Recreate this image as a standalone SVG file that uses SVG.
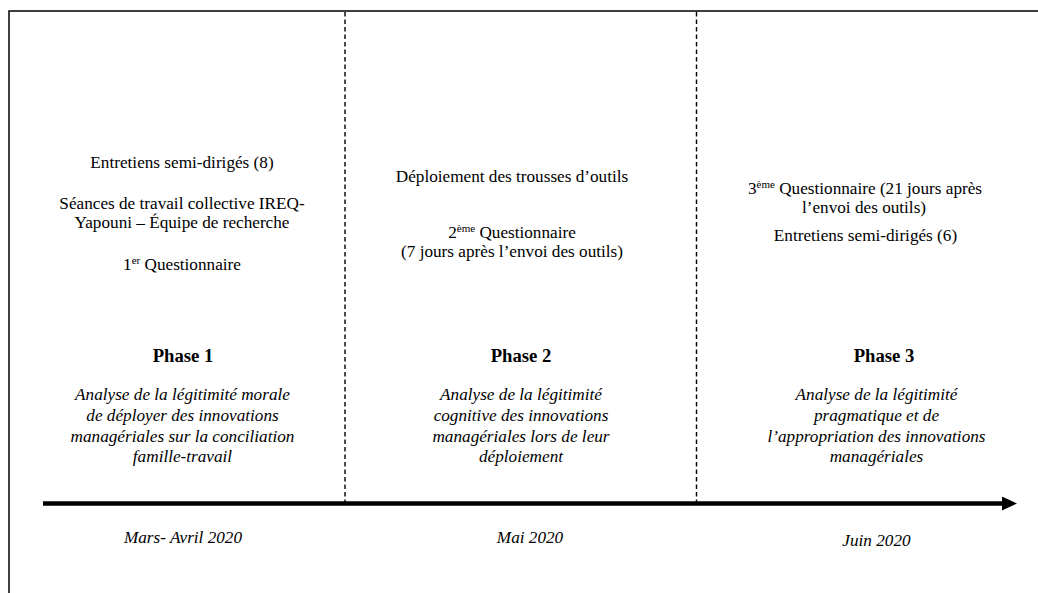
<svg xmlns="http://www.w3.org/2000/svg" width="1038" height="593" viewBox="0 0 1038 593">
<style>
text{font-family:"Liberation Serif","Times New Roman",serif;fill:#000;text-anchor:middle}
.r{font-size:17.2px}
.i{font-size:17.2px;font-style:italic}
.b{font-size:18.7px;font-weight:bold}
.sup{font-size:11px}
.dash{stroke:#000;stroke-width:1.4;stroke-dasharray:4.5 3;fill:none}
.frame{stroke:#000;stroke-width:1.5;fill:none}
</style>
<defs>
<marker id="ah" markerUnits="userSpaceOnUse" markerWidth="16" markerHeight="16" refX="0" refY="7" orient="auto">
<polygon points="0,0 15,7 0,14" fill="#000"/>
</marker>
</defs>
<rect width="1038" height="593" fill="#fff"/>
<path class="frame" d="M9,600 V11 H1045"/>
<line class="dash" x1="345" y1="12" x2="345" y2="502"/>
<line class="dash" x1="696.5" y1="12" x2="696.5" y2="502"/>
<g id="connectors">
<line x1="43" y1="503.5" x2="1002" y2="503.5" stroke="#000" stroke-width="4.6" marker-end="url(#ah)"/>
</g>
<g id="phase1">
<text class="r" x="182" y="168">Entretiens semi-dirigés (8)</text>
<text class="r" x="182" y="208.5">Séances de travail collective IREQ-</text>
<text class="r" x="182" y="227.5">Yapouni – Équipe de recherche</text>
<text class="r" x="182" y="270">1<tspan class="sup" dy="-6">er</tspan><tspan dy="6"> Questionnaire</tspan></text>
<text class="b" x="183" y="361.5">Phase 1</text>
<text class="i" x="182.5" y="400">Analyse de la légitimité morale</text>
<text class="i" x="182.5" y="421">de déployer des innovations</text>
<text class="i" x="182.5" y="441.5">managériales sur la conciliation</text>
<text class="i" x="182.5" y="462">famille-travail</text>
<text class="i" x="183" y="542.5">Mars- Avril 2020</text>
</g>
<g id="phase2">
<text class="r" x="512" y="182">Déploiement des trousses d’outils</text>
<text class="r" x="512" y="237.5">2<tspan class="sup" dy="-6">ème</tspan><tspan dy="6"> Questionnaire</tspan></text>
<text class="r" x="512" y="256.5">(7 jours après l’envoi des outils)</text>
<text class="b" x="521" y="361.5">Phase 2</text>
<text class="i" x="521" y="400">Analyse de la légitimité</text>
<text class="i" x="521" y="421">cognitive des innovations</text>
<text class="i" x="521" y="441.5">managériales lors de leur</text>
<text class="i" x="521" y="462">déploiement</text>
<text class="i" x="530" y="543">Mai 2020</text>
</g>
<g id="phase3">
<text class="r" x="865" y="194">3<tspan class="sup" dy="-6">ème</tspan><tspan dy="6"> Questionnaire (21 jours après</tspan></text>
<text class="r" x="864" y="213">l’envoi des outils)</text>
<text class="r" x="865.5" y="240.5">Entretiens semi-dirigés (6)</text>
<text class="b" x="884" y="361.5">Phase 3</text>
<text class="i" x="876.5" y="400">Analyse de la légitimité</text>
<text class="i" x="876.5" y="421">pragmatique et de</text>
<text class="i" x="876.5" y="441.5">l’appropriation des innovations</text>
<text class="i" x="876.5" y="462">managériales</text>
<text class="i" x="876.5" y="545.5">Juin 2020</text>
</g>
</svg>
